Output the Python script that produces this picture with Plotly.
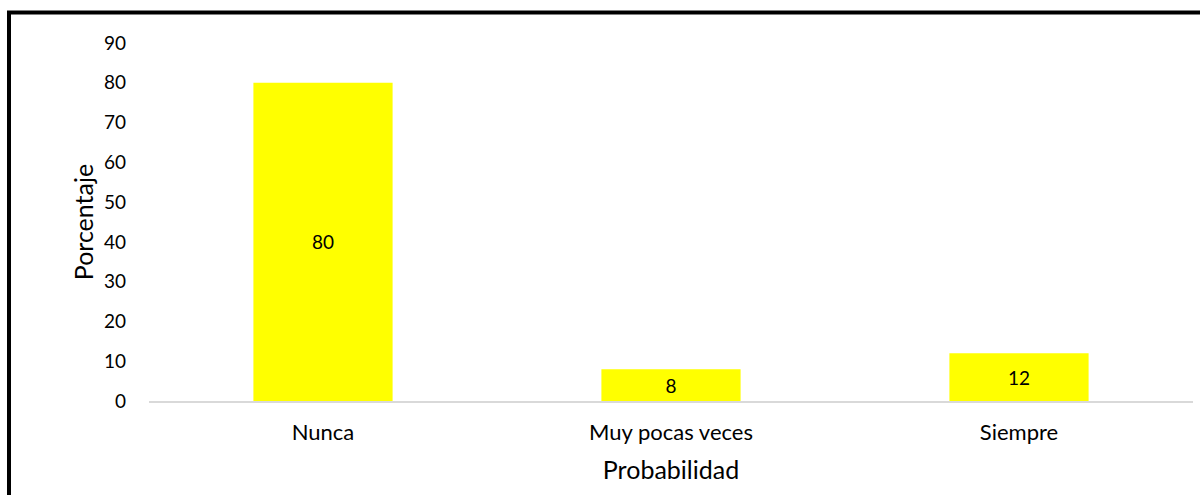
import plotly.graph_objects as go

categories = ["Nunca", "Muy pocas veces", "Siempre"]
values = [80, 8, 12]
labels = ["80", "8", "12"]
y_ticks = [0, 10, 20, 30, 40, 50, 60, 70, 80, 90]

FONT = "Lato, 'Open Sans', sans-serif"

fig = go.Figure(
    go.Bar(
        x=categories,
        y=values,
        text=labels,
        textposition="inside",
        insidetextanchor="middle",
        textangle=0,
        constraintext="none",
        textfont=dict(color="black", size=19, family=FONT),
        marker=dict(color="#FFFF00", line=dict(width=0)),
        hoverinfo="skip",
    )
)

fig.update_layout(
    width=1200,
    height=495,
    margin=dict(l=149, r=7, t=43, b=94),
    paper_bgcolor="white",
    plot_bgcolor="white",
    bargap=0.6,
    showlegend=False,
    font=dict(family=FONT, size=19, color="black"),
    xaxis=dict(
        showgrid=False,
        showline=True,
        linecolor="#d9d9d9",
        linewidth=2,
        ticks="",
        ticklabelstandoff=11,
        tickfont=dict(size=22),
        title=dict(text="Probabilidad", font=dict(size=25), standoff=17),
    ),
    yaxis=dict(
        range=[0, 90],
        tickvals=y_ticks,
        showgrid=False,
        zeroline=False,
        showline=False,
        ticks="",
        ticklabelstandoff=22,
        tickfont=dict(size=19),
        title=dict(text="Porcentaje", font=dict(size=25), standoff=3),
    ),
    shapes=[
        dict(
            type="rect",
            xref="paper",
            yref="paper",
            x0=-0.1341,
            x1=1.5,
            y0=-0.6,
            y1=1.0852,
            line=dict(color="black", width=4),
            fillcolor="rgba(0,0,0,0)",
            layer="above",
        )
    ],
)

fig.write_html("out.html")
